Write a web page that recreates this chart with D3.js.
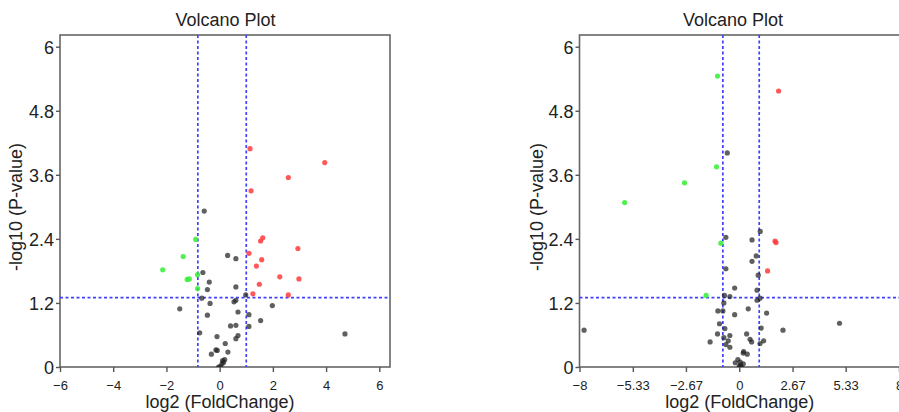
<!DOCTYPE html>
<html>
<head>
<meta charset="utf-8">
<script src="https://cdn.jsdelivr.net/npm/d3@7"></script>
<style>
  body { margin: 0; background: #fff; }
  svg { display: block; font-family: "Liberation Sans", Arial, sans-serif; }
</style>
</head>
<body>
<div id="container"></div>
<script>
// ---- data: [log2FC, -log10 p] ----
var leftUp = [[1.14,4.09],[3.95,3.83],[2.58,3.55],[1.18,3.30],[1.62,2.42],[1.54,2.36],[2.94,2.22],
  [1.10,2.13],[1.58,2.01],[1.38,1.89],[2.26,1.69],[2.98,1.65],[1.49,1.55],[1.25,1.37],[2.58,1.35]];
var leftDown = [[-0.90,2.39],[-1.37,2.07],[-2.14,1.82],[-1.22,1.64],[-1.14,1.65],[-0.83,1.73],[-0.83,1.47]];
var leftNs = [[-0.58,2.92],[0.30,2.09],[0.61,2.03],[-0.63,1.77],[-0.39,1.59],[-0.46,1.45],[0.61,1.50],
  [0.98,1.35],[-0.67,1.29],[-1.50,1.09],[-0.36,1.19],[0.54,1.22],[0.61,1.25],[1.98,1.15],[-0.46,0.97],
  [0.69,1.03],[1.10,0.98],[1.54,0.87],[0.41,0.77],[0.61,0.78],[1.10,0.76],[-0.75,0.64],[-0.10,0.57],
  [0.69,0.59],[0.61,0.53],[0.21,0.44],[-0.14,0.32],[-0.09,0.31],[0.31,0.28],[-0.31,0.24],[0.11,0.12],
  [0.15,0.09],[0.19,0.14],[0.09,0.06],[-0.04,0.0],[0.03,0.01],[4.71,0.62]];

var rightUp = [[1.97,5.17],[1.79,2.36],[1.84,2.33],[1.42,1.80]];
var rightDown = [[-1.09,5.45],[-1.14,3.75],[-2.74,3.45],[-5.74,3.08],[-0.92,2.32],[-1.66,1.34]];
var rightNs = [[-0.60,4.01],[1.05,2.54],[-0.67,2.43],[0.64,2.38],[0.85,2.08],[0.64,1.98],[-0.67,1.84],
  [0.95,1.72],[-0.23,1.48],[0.89,1.44],[-0.74,1.34],[-0.47,1.32],[1.04,1.29],[0.89,1.25],[-0.77,1.20],
  [-1.07,1.05],[-0.82,1.05],[0.45,1.09],[1.37,1.01],[-0.23,0.98],[-0.99,0.81],[5.02,0.82],[-7.77,0.69],
  [2.19,0.69],[1.10,0.73],[-0.72,0.72],[-1.09,0.62],[0.37,0.62],[-0.47,0.59],[-0.77,0.55],[-1.46,0.47],
  [-0.55,0.49],[0.54,0.52],[0.62,0.47],[1.22,0.49],[1.04,0.44],[-0.67,0.42],[-0.47,0.37],[0.22,0.29],
  [0.20,0.26],[0.40,0.24],[-0.07,0.14],[-0.20,0.08],[0.05,0.09],[0.07,0.04],[0.0,0.01],[0.10,0.0],
  [0.03,0.0],[0.20,0.06]];

var yTicks = [0, 1.2, 2.4, 3.6, 4.8, 6];
var leftXTicks = [-6, -4, -2, 0, 2, 4, 6];
var rightXTicks = [-8, -5.33, -2.67, 0, 2.67, 5.33, 8];
var fcCut = [-0.82, 1];
var pCut = 1.3;

var width = 899;
var height = 412;

function fmt(v){
    return (v < 0 ? '\u2212' : '') + Math.abs(v);
}

function drawPanel(svg, opt){
    var g = svg.append('g');
    var x = d3.scaleLinear().domain(opt.xDomain).range([opt.left, opt.right]);
    var y = d3.scaleLinear().domain([0, 6]).range([367, 46.7]);
    var top = 35, bottom = 367;

    // frame
    g.append('rect')
        .attr('x', opt.left).attr('y', top)
        .attr('width', opt.frameRight - opt.left).attr('height', bottom - top)
        .attr('fill', 'none').attr('stroke', '#666').attr('stroke-width', 1.6);

    // axes
    var yAxis = d3.axisLeft(y).tickValues(yTicks).tickSize(4).tickFormat(d => d);
    var ya = g.append('g').attr('transform', 'translate(' + opt.left + ',0)').call(yAxis);
    ya.select('.domain').remove();
    ya.selectAll('line').attr('stroke', '#555').attr('stroke-width', 1.4);
    ya.selectAll('text').attr('font-size', 18).attr('fill', '#222').attr('dx', 1).attr('dy', '0.36em');

    var xAxis = d3.axisBottom(x).tickValues(opt.xTicks).tickSize(5).tickFormat(fmt);
    var xa = g.append('g').attr('transform', 'translate(0,' + bottom + ')').call(xAxis);
    xa.select('.domain').remove();
    xa.selectAll('line').attr('stroke', '#555').attr('stroke-width', 1.4);
    xa.selectAll('text').attr('font-size', 13).attr('fill', '#222').attr('y', 0).attr('dy', 23);
    xa.attr('font-family', null);
    ya.attr('font-family', null);

    // threshold lines
    var clip = 'clip' + opt.id;
    svg.append('clipPath').attr('id', clip).append('rect')
        .attr('x', opt.left).attr('y', top).attr('width', opt.frameRight - opt.left).attr('height', bottom - top);
    var plot = g.append('g').attr('clip-path', 'url(#' + clip + ')');
    fcCut.forEach(function(v){
        plot.append('line')
            .attr('x1', x(v)).attr('x2', x(v)).attr('y1', top).attr('y2', bottom)
            .attr('stroke', '#4040ff').attr('stroke-width', 1.7).attr('stroke-dasharray', '3,2.5');
    });
    plot.append('line')
        .attr('x1', opt.left).attr('x2', opt.frameRight).attr('y1', y(pCut)).attr('y2', y(pCut))
        .attr('stroke', '#4040ff').attr('stroke-width', 1.7).attr('stroke-dasharray', '3,2.5');

    // points
    var groups = [[opt.ns, '#222', 0.72], [opt.down, '#33ee33', 0.85], [opt.up, '#ff3b3b', 0.85]];
    groups.forEach(function(gr){
        plot.selectAll(null).data(gr[0]).enter().append('circle')
            .attr('cx', d => x(d[0]))
            .attr('cy', d => y(d[1]))
            .attr('r', 2.6)
            .attr('fill', gr[1])
            .attr('fill-opacity', gr[2]);
    });

    // titles
    svg.append('text')
        .attr('x', opt.titleX).attr('y', 26)
        .attr('text-anchor', 'middle').attr('font-size', 18).attr('fill', '#222')
        .text('Volcano Plot');
    svg.append('text')
        .attr('x', (opt.left + opt.frameRight) / 2 + opt.xLabelShift).attr('y', 408)
        .attr('text-anchor', 'middle').attr('font-size', 18).attr('fill', '#222')
        .text('log2 (FoldChange)');
    svg.append('text')
        .attr('transform', 'translate(' + opt.yLabelX + ',207) rotate(-90)')
        .attr('text-anchor', 'middle').attr('dy', '0.35em').attr('font-size', 18).attr('fill', '#222')
        .text('-log10 (P-value)');
}

var svg = d3.select('#container').append('svg')
    .attr('width', width).attr('height', height);

drawPanel(svg, {
    id: 'a', left: 60, right: 379.3, frameRight: 390, xDomain: [-6, 6], xTicks: leftXTicks,
    up: leftUp, down: leftDown, ns: leftNs, titleX: 225.5, yLabelX: 16, xLabelShift: -5
});
drawPanel(svg, {
    id: 'b', left: 579.5, right: 899, frameRight: 910, xDomain: [-8, 8], xTicks: rightXTicks,
    up: rightUp, down: rightDown, ns: rightNs, titleX: 733, yLabelX: 537, xLabelShift: -5
});
</script>
</body>
</html>
